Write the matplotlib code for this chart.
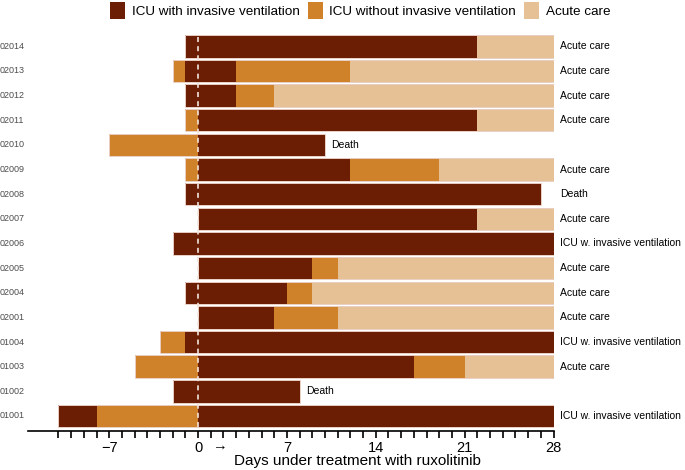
import matplotlib
matplotlib.use("Agg")
import matplotlib.pyplot as plt
from matplotlib.patches import Patch
from matplotlib.transforms import blended_transform_factory

plt.rcParams["font.family"] = ["Liberation Sans", "DejaVu Sans"]

# patients, top row first
patients = ["02014", "02013", "02012", "02011", "02010", "02009", "02008", "02007",
            "02006", "02005", "02004", "02001", "01004", "01003", "01002", "01001"]
outcomes = ["Acute care", "Acute care", "Acute care", "Acute care", "Death", "Acute care",
            "Death", "Acute care", "ICU w. invasive ventilation", "Acute care", "Acute care",
            "Acute care", "ICU w. invasive ventilation", "Acute care", "Death",
            "ICU w. invasive ventilation"]
# state periods per patient: (state, first day, last day)
periods = [
    [("icu_vent", -1, 22), ("acute", 22, 28)],
    [("icu", -2, -1), ("icu_vent", -1, 3), ("icu", 3, 12), ("acute", 12, 28)],
    [("icu_vent", -1, 3), ("icu", 3, 6), ("acute", 6, 28)],
    [("icu", -1, 0), ("icu_vent", 0, 22), ("acute", 22, 28)],
    [("icu", -7, 0), ("icu_vent", 0, 10)],
    [("icu", -1, 0), ("icu_vent", 0, 12), ("icu", 12, 19), ("acute", 19, 28)],
    [("icu_vent", -1, 27)],
    [("icu_vent", 0, 22), ("acute", 22, 28)],
    [("icu_vent", -2, 28)],
    [("icu_vent", 0, 9), ("icu", 9, 11), ("acute", 11, 28)],
    [("icu_vent", -1, 7), ("icu", 7, 9), ("acute", 9, 28)],
    [("icu_vent", 0, 6), ("icu", 6, 11), ("acute", 11, 28)],
    [("icu", -3, -1), ("icu_vent", -1, 28)],
    [("icu", -5, 0), ("icu_vent", 0, 17), ("icu", 17, 21), ("acute", 21, 28)],
    [("icu_vent", -2, 8)],
    [("icu_vent", -11, -8), ("icu", -8, 0), ("icu_vent", 0, 28)],
]
state_names = {"icu_vent": "ICU with invasive ventilation",
               "icu": "ICU without invasive ventilation",
               "acute": "Acute care"}
colors = {"icu_vent": "#6B1E04", "icu": "#D0822A", "acute": "#E6C196"}

fig = plt.figure(figsize=(6.85, 4.7), dpi=100)
ax = fig.add_axes([28 / 685, 1 - 431 / 470, 525.5 / 685, 397 / 470])

n = len(patients)
bar_h = 0.91
trans = blended_transform_factory(fig.transFigure, ax.transData)
for i, (pid, segs, outcome) in enumerate(zip(patients, periods, outcomes)):
    y = n - 1 - i
    for state, start, end in segs:
        ax.barh(y, end - start, left=start, height=bar_h, color=colors[state], linewidth=0)
    first = segs[0][1]
    last = segs[-1][2]
    ax.barh(y, last - first, left=first, height=bar_h, fill=False,
            edgecolor="#E9CFC4", linewidth=0.7)
    # outcome label: right column, or just after the bar when it stops early
    lx = 28.5 if last >= 27 else last + 0.5
    ax.text(lx, y, outcome, ha="left", va="center", fontsize=7.5, clip_on=False)
    ax.text(0.0, y, pid, transform=trans, ha="left", va="center", fontsize=6.5,
            color="#4D4D4D")

ax.vlines(0, -bar_h / 2, n - 1 + bar_h / 2, colors="#F2E4DC", linewidth=1.2,
          linestyles=(0, (3, 2.5)))

ax.set_xlim(-13.4, 28)
ax.set_ylim(-0.61, n - 0.5)
ticks = list(range(-11, 29))
labels = ["\u2212" + str(-t) if t < 0 and t % 7 == 0 else (str(t) if t % 7 == 0 else "")
          for t in ticks]
ax.set_xticks(ticks)
ax.set_xticklabels(labels, fontsize=10.5)
ax.tick_params(axis="x", length=5, width=1.2, pad=2.5, direction="out")
ax.set_yticks([])
for s in ["left", "top", "right"]:
    ax.spines[s].set_visible(False)
ax.spines["bottom"].set_linewidth(1.2)
ax.set_xlabel("Days under treatment with ruxolitinib", fontsize=11)
ax.xaxis.set_label_coords(0.626, -0.058)

ax.annotate("\u2192", xy=(1.1, 0), xycoords=blended_transform_factory(ax.transData, ax.transAxes),
            xytext=(0, -5.5), textcoords="offset points", ha="left", va="top", fontsize=10.5)

handles = [Patch(facecolor=colors[k], edgecolor="none", label=state_names[k])
           for k in ["icu_vent", "icu", "acute"]]
fig.legend(handles=handles, loc="center", bbox_to_anchor=(0.526, 0.978), ncol=3,
           frameon=False, fontsize=9.7, handlelength=1.1, handleheight=1.6,
           handletextpad=0.5, columnspacing=0.6, borderpad=0)

fig.savefig("out.png", dpi=100)
